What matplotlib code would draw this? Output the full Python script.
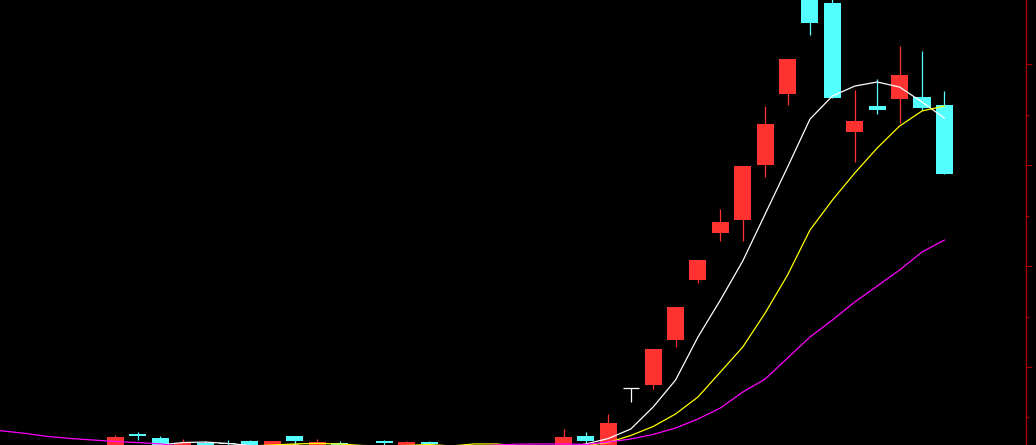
import matplotlib
matplotlib.use("Agg")
import matplotlib.pyplot as plt
import numpy as np

# daily bars, index 0..37 (price units; bottom/top of chart are clipped)
opens = [1.98, 3.37, 2.97, 2.08, 2.48, 2.48, 2.67, 2.08, 3.17, 2.08,
         2.48, 1.88, 2.67, 2.08, 2.57, 1.68, 1.98, 1.78, 1.88, 1.68,
         1.98, 3.20, 2.18, 7.92, 8.22, 12.67, 18.61, 23.27, 24.55, 30.00,
         37.03, 46.83, 46.04, 33.27, 35.84, 36.53, 36.73, 35.94]
highs = [3.27, 3.56, 3.17, 2.87, 2.67, 2.77, 2.77, 2.67, 3.17, 2.87,
         2.67, 2.00, 2.77, 2.67, 2.67, 2.13, 2.18, 2.48, 2.00, 2.13,
         3.86, 3.56, 5.35, 7.92, 11.78, 15.94, 20.59, 25.64, 29.90, 35.84,
         40.50, 47.13, 46.53, 37.43, 38.51, 41.78, 41.29, 37.33]
lows = [1.78, 2.80, 1.88, 1.88, 1.88, 2.18, 1.88, 1.88, 2.18, 1.88,
        1.78, 1.49, 2.18, 1.88, 2.00, 1.58, 1.58, 1.58, 1.58, 1.49,
        1.78, 2.50, 2.08, 6.53, 7.82, 11.98, 18.32, 22.48, 22.48, 28.81,
        35.94, 42.87, 36.63, 30.30, 35.05, 34.16, 35.45, 29.11]
closes = [3.07, 3.20, 2.08, 2.50, 2.08, 2.38, 2.08, 2.67, 2.67, 2.57,
          1.98, 1.68, 2.48, 2.57, 2.38, 1.98, 1.78, 2.08, 1.68, 1.98,
          3.07, 2.67, 4.46, 7.92, 11.78, 15.94, 20.59, 24.36, 29.90, 34.06,
          40.50, 44.06, 36.63, 34.36, 35.45, 38.91, 35.64, 29.11]

# moving averages at the same bars
ma5 = [2.00, 2.10, 2.28, 2.52, 2.57, 2.43, 2.23, 2.18, 2.28, 2.10,
       2.00, 1.95, 1.95, 1.95, 1.98, 1.95, 1.90, 1.90, 1.88, 1.90,
       2.05, 2.38, 2.92, 3.86, 6.04, 8.71, 12.97, 16.63, 20.50, 25.15,
       29.80, 34.55, 36.83, 37.82, 38.22, 37.72, 36.24, 34.65]
ma10 = [1.90, 1.92, 1.95, 1.98, 2.00, 2.05, 2.18, 2.28, 2.38, 2.43,
        2.38, 2.23, 2.18, 2.23, 2.33, 2.18, 2.38, 2.38, 2.20, 2.15,
        2.15, 2.23, 2.52, 3.22, 4.11, 5.35, 7.03, 9.50, 11.98, 15.35,
        19.11, 23.56, 26.53, 29.21, 31.68, 33.86, 35.35, 35.84]
# long average starts six bars earlier (index -6..37)
ma_long = [3.86, 3.66, 3.42, 3.12, 2.92, 2.77,
           2.62, 2.52, 2.38, 2.15, 2.10, 2.05, 2.00, 1.97, 1.95, 1.94,
           1.94, 1.95, 1.97, 2.00, 2.04, 2.09, 2.15, 2.28, 2.36, 2.38,
           2.38, 2.33, 2.57, 2.87, 3.32, 3.96, 4.85, 5.94, 7.52, 8.81,
           10.89, 12.97, 14.65, 16.44, 18.02, 19.60, 21.39, 22.57]

up_col = "#FF3232"
down_col = "#54FFFF"

fig = plt.figure(figsize=(10.36, 4.45), dpi=100, facecolor="black")
ax = fig.add_axes([0, 0, 1025.5 / 1036, 1])
ax.set_facecolor("black")

x = np.arange(len(closes))
for i in x:
    o, h, l, c = opens[i], highs[i], lows[i], closes[i]
    if c > o:
        col = up_col
    elif c < o:
        col = down_col
    else:
        col = "white"
    ax.vlines(i, l, h, color=col, linewidth=0.9, zorder=2)
    if c == o:
        ax.hlines(c, i - 0.36, i + 0.36, color=col, linewidth=0.9, zorder=3)
    else:
        ax.bar(i, abs(c - o), bottom=min(o, c), width=0.76, color=col,
               linewidth=0, zorder=3)

ax.plot(x, ma5, color="white", linewidth=0.9, zorder=4)
ax.plot(x, ma10, color="#FFFF00", linewidth=0.9, zorder=4)
ax.plot(np.arange(-6, len(closes)), ma_long, color="#FF00FF", linewidth=0.9, zorder=4)

ax.set_xlim(-5.155, 40.62)
ax.set_ylim(2.277, 46.34)

for s in ["left", "top", "bottom"]:
    ax.spines[s].set_visible(False)
ax.spines["right"].set_color("#AA0000")
ax.spines["right"].set_linewidth(1.0)
ax.set_xticks([])
ax.yaxis.tick_right()
ax.set_yticks([10, 20, 30, 40])
ax.set_yticks([5, 15, 25, 35], minor=True)
ax.tick_params(axis="y", which="major", direction="out", length=4.3, width=0.8,
               color="#AA0000", labelright=False)
ax.tick_params(axis="y", which="minor", direction="out", length=2.2, width=0.8,
               color="#AA0000")

fig.savefig("out.png", dpi=100, facecolor="black")
